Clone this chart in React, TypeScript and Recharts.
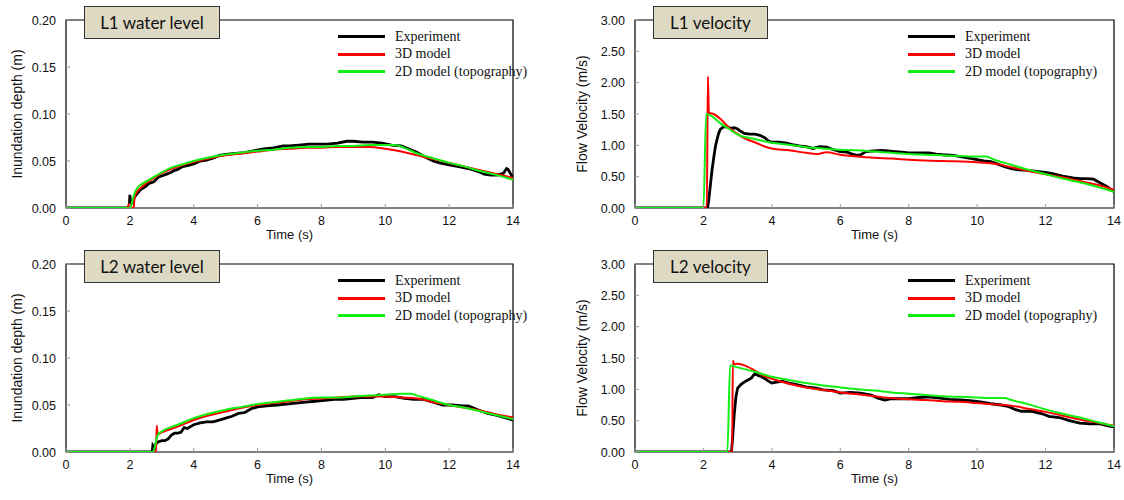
import React from "react";
import { Line, LineChart, ReferenceArea, XAxis, YAxis } from "recharts";

type Pt = [number, number];

const SERIES_NAMES = ["Experiment", "3D model", "2D model (topography)"];
const SERIES_COLORS = ["#000000", "#ff0000", "#11ee11"];
const SERIES_WIDTHS = [2.8, 2, 2];

const X_TICKS = [0, 2, 4, 6, 8, 10, 12, 14];
const DEPTH_TICKS = [0, 0.05, 0.1, 0.15, 0.2];
const VEL_TICKS = [0, 0.5, 1, 1.5, 2, 2.5, 3];

// L1 water level (m)
const l1DepthExp: Pt[] = [
  [0, 0], [1.98, 0], [2.0, 0.014], [2.03, 0.004], [2.08, 0.006], [2.15, 0.012], [2.25, 0.016],
  [2.35, 0.02], [2.5, 0.023], [2.6, 0.026], [2.75, 0.028], [2.9, 0.033], [3.0, 0.034], [3.15, 0.036],
  [3.3, 0.038], [3.4, 0.04], [3.5, 0.041], [3.65, 0.044], [3.8, 0.045], [4.0, 0.047], [4.2, 0.05],
  [4.4, 0.051], [4.6, 0.053], [4.8, 0.056], [5.0, 0.057], [5.3, 0.058], [5.6, 0.059], [5.9, 0.061],
  [6.2, 0.063], [6.5, 0.064], [6.8, 0.066], [7.0, 0.066], [7.3, 0.067], [7.6, 0.068], [7.9, 0.068],
  [8.2, 0.068], [8.5, 0.069], [8.8, 0.071], [9.0, 0.071], [9.3, 0.07], [9.6, 0.07], [9.9, 0.069],
  [10.2, 0.067], [10.5, 0.066], [10.8, 0.062], [11.0, 0.059], [11.2, 0.055], [11.5, 0.05], [11.7, 0.048],
  [12.0, 0.046], [12.3, 0.044], [12.6, 0.042], [12.9, 0.039], [13.1, 0.036], [13.3, 0.035], [13.5, 0.035],
  [13.7, 0.037], [13.8, 0.042], [13.85, 0.041], [13.95, 0.035], [14, 0.033],
];
const l1Depth3D: Pt[] = [
  [0, 0], [1.93, 0], [1.96, 0.004], [2.0, 0.004], [2.03, 0], [2.12, 0], [2.15, 0.012], [2.2, 0.016],
  [2.3, 0.02], [2.5, 0.026], [2.75, 0.032], [3.0, 0.037], [3.5, 0.044], [4.0, 0.049], [4.5, 0.053],
  [5.0, 0.056], [5.5, 0.058], [6.0, 0.06], [6.5, 0.062], [7.0, 0.063], [7.5, 0.064], [8.0, 0.064],
  [8.5, 0.065], [9.0, 0.065], [9.5, 0.065], [10.0, 0.063], [10.5, 0.06], [11.0, 0.056], [11.5, 0.052],
  [12.0, 0.048], [12.5, 0.044], [13.0, 0.04], [13.5, 0.036], [14.0, 0.032],
];
const l1Depth2D: Pt[] = [
  [0, 0], [2.02, 0], [2.08, 0.008], [2.15, 0.016], [2.25, 0.022], [2.4, 0.026], [2.6, 0.03],
  [2.8, 0.034], [3.0, 0.038], [3.3, 0.043], [3.6, 0.046], [4.0, 0.05], [4.5, 0.054], [5.0, 0.057],
  [5.5, 0.059], [6.0, 0.061], [6.5, 0.062], [7.0, 0.064], [7.5, 0.065], [8.0, 0.065], [8.5, 0.066],
  [9.0, 0.066], [9.5, 0.067], [10.0, 0.067], [10.3, 0.067], [10.6, 0.064], [11.0, 0.058], [11.5, 0.053],
  [12.0, 0.048], [12.5, 0.044], [13.0, 0.039], [13.5, 0.035], [14.0, 0.03],
];

// L1 velocity (m/s)
const l1VelExp: Pt[] = [
  [0, 0], [2.12, 0], [2.15, 0.1], [2.2, 0.35], [2.25, 0.6], [2.3, 0.8], [2.35, 0.98], [2.4, 1.1],
  [2.45, 1.2], [2.5, 1.26], [2.6, 1.3], [2.7, 1.29], [2.8, 1.27], [2.9, 1.28], [3.0, 1.26], [3.1, 1.22],
  [3.2, 1.19], [3.35, 1.18], [3.5, 1.18], [3.65, 1.16], [3.8, 1.12], [3.9, 1.07], [4.0, 1.05], [4.2, 1.05],
  [4.4, 1.04], [4.6, 1.01], [4.8, 0.99], [5.0, 0.98], [5.2, 0.95], [5.4, 0.98], [5.6, 0.97], [5.8, 0.93],
  [6.0, 0.9], [6.2, 0.89], [6.35, 0.86], [6.5, 0.84], [6.6, 0.85], [6.75, 0.9], [7.0, 0.91], [7.2, 0.92],
  [7.4, 0.91], [7.6, 0.9], [7.8, 0.89], [8.0, 0.88], [8.3, 0.88], [8.6, 0.88], [8.8, 0.86], [9.0, 0.85],
  [9.3, 0.84], [9.6, 0.81], [9.8, 0.79], [10.0, 0.77], [10.2, 0.75], [10.4, 0.74], [10.6, 0.7], [10.8, 0.66],
  [11.0, 0.63], [11.2, 0.61], [11.5, 0.6], [11.8, 0.58], [12.0, 0.57], [12.2, 0.55], [12.5, 0.51],
  [12.8, 0.48], [13.0, 0.47], [13.2, 0.47], [13.4, 0.46], [13.6, 0.4], [13.8, 0.34], [14.0, 0.26],
];
const l1Vel3D: Pt[] = [
  [0, 0], [2.1, 0], [2.13, 2.1], [2.16, 1.52], [2.3, 1.5], [2.5, 1.42], [2.75, 1.28], [3.0, 1.18],
  [3.25, 1.1], [3.5, 1.05], [3.75, 0.99], [4.0, 0.95], [4.5, 0.92], [5.0, 0.88], [5.3, 0.86], [5.6, 0.89],
  [6.0, 0.85], [6.5, 0.82], [7.0, 0.8], [7.5, 0.79], [8.0, 0.77], [9.0, 0.75], [10.0, 0.73], [10.3, 0.72],
  [10.6, 0.7], [11.0, 0.65], [11.5, 0.59], [12.0, 0.54], [12.5, 0.49], [13.0, 0.43], [13.5, 0.37], [14.0, 0.29],
];
const l1Vel2D: Pt[] = [
  [0, 0], [2.0, 0], [2.08, 1.5], [2.2, 1.48], [2.5, 1.35], [2.75, 1.26], [3.0, 1.17], [3.5, 1.1],
  [4.0, 1.04], [4.5, 1.01], [5.0, 0.97], [5.5, 0.95], [6.0, 0.93], [6.5, 0.92], [7.0, 0.9], [7.5, 0.88],
  [8.0, 0.86], [8.5, 0.85], [9.0, 0.84], [9.5, 0.83], [10.0, 0.82], [10.25, 0.82], [10.5, 0.77], [11.0, 0.69],
  [11.5, 0.61], [12.0, 0.54], [12.5, 0.47], [13.0, 0.41], [13.5, 0.34], [14.0, 0.26],
];

// L2 water level (m)
const l2DepthExp: Pt[] = [
  [0, 0], [2.7, 0], [2.72, 0.007], [2.78, 0.004], [2.82, 0.009], [2.9, 0.011], [3.0, 0.012], [3.1, 0.012],
  [3.2, 0.014], [3.3, 0.018], [3.4, 0.02], [3.5, 0.02], [3.6, 0.021], [3.7, 0.026], [3.8, 0.025], [3.9, 0.027],
  [4.0, 0.029], [4.2, 0.031], [4.4, 0.032], [4.6, 0.032], [4.8, 0.034], [5.0, 0.036], [5.2, 0.038],
  [5.4, 0.041], [5.6, 0.042], [5.8, 0.046], [6.0, 0.048], [6.3, 0.049], [6.6, 0.05], [6.9, 0.051],
  [7.2, 0.052], [7.5, 0.053], [7.8, 0.054], [8.1, 0.055], [8.4, 0.056], [8.7, 0.056], [9.0, 0.057],
  [9.3, 0.058], [9.6, 0.058], [9.8, 0.061], [10.0, 0.059], [10.3, 0.059], [10.6, 0.057], [10.9, 0.056],
  [11.2, 0.056], [11.5, 0.053], [11.8, 0.05], [12.1, 0.05], [12.4, 0.049], [12.6, 0.049], [12.9, 0.045],
  [13.2, 0.041], [13.5, 0.039], [13.8, 0.036], [14.0, 0.034],
];
const l2Depth3D: Pt[] = [
  [0, 0], [2.82, 0], [2.84, 0.028], [2.87, 0.019], [3.0, 0.021], [3.5, 0.027], [4.0, 0.034], [4.5, 0.039],
  [5.0, 0.043], [5.5, 0.047], [6.0, 0.05], [6.5, 0.052], [7.0, 0.054], [7.5, 0.056], [8.0, 0.057],
  [8.5, 0.058], [9.0, 0.059], [9.5, 0.059], [10.0, 0.059], [10.5, 0.058], [11.0, 0.057], [11.5, 0.053],
  [12.0, 0.05], [12.5, 0.047], [13.0, 0.044], [13.5, 0.04], [14.0, 0.037],
];
const l2Depth2D: Pt[] = [
  [0, 0], [2.72, 0], [2.8, 0.008], [2.85, 0.016], [2.92, 0.02], [3.0, 0.022], [3.5, 0.029], [4.0, 0.036],
  [4.5, 0.041], [5.0, 0.045], [5.5, 0.048], [6.0, 0.051], [6.5, 0.053], [7.0, 0.055], [7.5, 0.057],
  [8.0, 0.058], [8.5, 0.058], [9.0, 0.059], [9.5, 0.06], [10.0, 0.061], [10.5, 0.062], [10.8, 0.062],
  [11.0, 0.06], [11.5, 0.055], [12.0, 0.05], [12.5, 0.047], [13.0, 0.043], [13.5, 0.039], [14.0, 0.035],
];

// L2 velocity (m/s)
const l2VelExp: Pt[] = [
  [0, 0], [2.82, 0], [2.85, 0.2], [2.9, 0.6], [2.95, 0.88], [3.0, 1.02], [3.1, 1.08], [3.2, 1.12],
  [3.3, 1.15], [3.4, 1.18], [3.5, 1.25], [3.6, 1.22], [3.7, 1.2], [3.8, 1.17], [3.9, 1.13], [4.0, 1.1],
  [4.1, 1.11], [4.3, 1.13], [4.5, 1.1], [4.7, 1.08], [5.0, 1.04], [5.3, 1.02], [5.5, 0.99], [5.8, 0.98],
  [6.0, 0.94], [6.3, 0.95], [6.6, 0.94], [6.9, 0.91], [7.1, 0.86], [7.3, 0.83], [7.5, 0.85], [7.8, 0.85],
  [8.0, 0.85], [8.3, 0.87], [8.6, 0.88], [8.9, 0.86], [9.2, 0.84], [9.5, 0.83], [9.8, 0.82], [10.1, 0.8],
  [10.4, 0.77], [10.7, 0.75], [10.9, 0.73], [11.1, 0.68], [11.3, 0.65], [11.6, 0.65], [11.9, 0.61],
  [12.1, 0.57], [12.4, 0.55], [12.7, 0.5], [13.0, 0.46], [13.3, 0.45], [13.6, 0.45], [13.8, 0.42], [14.0, 0.4],
];
const l2Vel3D: Pt[] = [
  [0, 0], [2.84, 0], [2.86, 1.46], [2.9, 1.4], [3.0, 1.41], [3.25, 1.37], [3.5, 1.3], [3.75, 1.22],
  [4.0, 1.17], [4.5, 1.09], [5.0, 1.03], [5.5, 0.99], [6.0, 0.95], [6.5, 0.92], [7.0, 0.89], [7.5, 0.86],
  [8.0, 0.84], [8.5, 0.83], [9.0, 0.81], [9.5, 0.8], [10.0, 0.78], [10.5, 0.76], [11.0, 0.74], [11.5, 0.69],
  [12.0, 0.64], [12.5, 0.58], [13.0, 0.52], [13.5, 0.47], [14.0, 0.42],
];
const l2Vel2D: Pt[] = [
  [0, 0], [2.7, 0], [2.78, 1.38], [3.0, 1.35], [3.5, 1.28], [4.0, 1.2], [4.5, 1.15], [5.0, 1.1],
  [5.5, 1.06], [6.0, 1.03], [6.5, 1.0], [7.0, 0.98], [7.5, 0.95], [8.0, 0.93], [8.5, 0.91], [9.0, 0.89],
  [9.5, 0.88], [10.0, 0.87], [10.5, 0.86], [10.8, 0.86], [11.0, 0.83], [11.5, 0.76], [12.0, 0.68],
  [12.5, 0.61], [13.0, 0.55], [13.5, 0.48], [14.0, 0.41],
];

const toRows = (pts: Pt[]) => pts.map(([t, v]) => ({ t, v }));

const AXIS_FONT = "'Liberation Sans', Arial, sans-serif";
const TICK_GREY = "#9a9a9a";

const xTick = (props: any) => {
  const { x, y, payload } = props;
  return (
    <g>
      <line x1={x} y1={y} x2={x} y2={y - 4} stroke={TICK_GREY} />
      <text x={x} y={y + 17} textAnchor="middle" fontSize={12.5} fontFamily={AXIS_FONT} fill="#111">
        {payload.value}
      </text>
    </g>
  );
};

const yTick = (props: any) => {
  const { x, y, payload } = props;
  return (
    <g>
      <line x1={x} y1={y} x2={x + 4} y2={y} stroke={TICK_GREY} />
      <text x={x - 10} y={y + 4.5} textAnchor="end" fontSize={12.5} fontFamily={AXIS_FONT} fill="#111">
        {Number(payload.value).toFixed(2)}
      </text>
    </g>
  );
};

interface PanelProps {
  title: string;
  titleWidth: number;
  yLabel: string;
  yLabelX: number;
  yTicks: number[];
  series: Pt[][];
  left: number;
  top: number;
  yAxisWidth: number;
  marginRight: number;
  legendX: number;
}

function Panel({ title, titleWidth, yLabel, yLabelX, yTicks, series, left, top, yAxisWidth, marginRight, legendX }: PanelProps) {
  const W = 562;
  const H = 250;
  const yMax = yTicks[yTicks.length - 1];
  return (
    <div style={{ position: "absolute", left, top, width: W, height: H }}>
      <LineChart width={W} height={H} margin={{ top: 20, right: marginRight, bottom: 12, left: 0 }}>
        <XAxis
          type="number"
          dataKey="t"
          domain={[0, 14]}
          ticks={X_TICKS}
          allowDataOverflow
          height={30}
          axisLine={false}
          tickLine={false}
          tickSize={0}
          tickMargin={0}
          tick={xTick}
          label={{
            value: "Time (s)",
            position: "insideBottom",
            offset: -1,
            fontSize: 13,
            fontFamily: AXIS_FONT,
            fill: "#111",
          }}
        />
        <YAxis
          type="number"
          domain={[0, yMax]}
          ticks={yTicks}
          allowDataOverflow
          width={yAxisWidth}
          axisLine={false}
          tickLine={false}
          tickSize={0}
          tickMargin={0}
          tick={yTick}
          label={{
            value: yLabel,
            angle: -90,
            position: "insideLeft",
            offset: yLabelX,
            fontSize: 14,
            fontFamily: AXIS_FONT,
            fill: "#111",
            style: { textAnchor: "middle" },
          }}
        />
        <ReferenceArea x1={0} x2={14} y1={0} y2={yMax} fill="none" stroke="#000" strokeWidth={1.2} ifOverflow="visible" />
        {series.map((s, i) => (
          <Line
            key={SERIES_NAMES[i]}
            data={toRows(s)}
            dataKey="v"
            type={i === 0 ? "linear" : "monotone"}
            stroke={SERIES_COLORS[i]}
            strokeWidth={SERIES_WIDTHS[i]}
            dot={false}
            activeDot={false}
            isAnimationActive={false}
          />
        ))}
      </LineChart>
      <div
        style={{
          position: "absolute",
          left: yAxisWidth + 18,
          top: 6,
          width: titleWidth,
          height: 33,
          boxSizing: "border-box",
          background: "#ddd9c3",
          border: "1.5px solid #333",
          display: "flex",
          alignItems: "center",
          justifyContent: "center",
          fontFamily: "Lato, 'Open Sans', sans-serif",
          fontSize: 17,
          color: "#111",
        }}
      >
        {title}
      </div>
      <div style={{ position: "absolute", left: legendX, top: 28 }}>
        {SERIES_NAMES.map((name, i) => (
          <div key={name} style={{ display: "flex", alignItems: "center", height: 17.5 }}>
            <span style={{ width: 47, height: 3, background: SERIES_COLORS[i], marginRight: 10 }} />
            <span style={{ fontFamily: "'Liberation Serif', 'Times New Roman', serif", fontSize: 14, color: "#111" }}>
              {name}
            </span>
          </div>
        ))}
      </div>
    </div>
  );
}

export default function App() {
  return (
    <div style={{ position: "absolute", left: 0, top: 0, width: 1124, height: 500, background: "#fff" }}>
      <Panel
        title="L1 water level"
        titleWidth={136}
        yLabel="Inundation depth (m)"
        yLabelX={17}
        yTicks={DEPTH_TICKS}
        series={[l1DepthExp, l1Depth3D, l1Depth2D]}
        left={0}
        top={0}
        yAxisWidth={66}
        marginRight={49}
        legendX={338}
      />
      <Panel
        title="L1 velocity"
        titleWidth={115}
        yLabel="Flow Velocity (m/s)"
        yLabelX={20}
        yTicks={VEL_TICKS}
        series={[l1VelExp, l1Vel3D, l1Vel2D]}
        left={562}
        top={0}
        yAxisWidth={73}
        marginRight={10}
        legendX={346}
      />
      <Panel
        title="L2 water level"
        titleWidth={136}
        yLabel="Inundation depth (m)"
        yLabelX={17}
        yTicks={DEPTH_TICKS}
        series={[l2DepthExp, l2Depth3D, l2Depth2D]}
        left={0}
        top={244}
        yAxisWidth={66}
        marginRight={49}
        legendX={338}
      />
      <Panel
        title="L2 velocity"
        titleWidth={115}
        yLabel="Flow Velocity (m/s)"
        yLabelX={20}
        yTicks={VEL_TICKS}
        series={[l2VelExp, l2Vel3D, l2Vel2D]}
        left={562}
        top={244}
        yAxisWidth={73}
        marginRight={10}
        legendX={346}
      />
    </div>
  );
}
